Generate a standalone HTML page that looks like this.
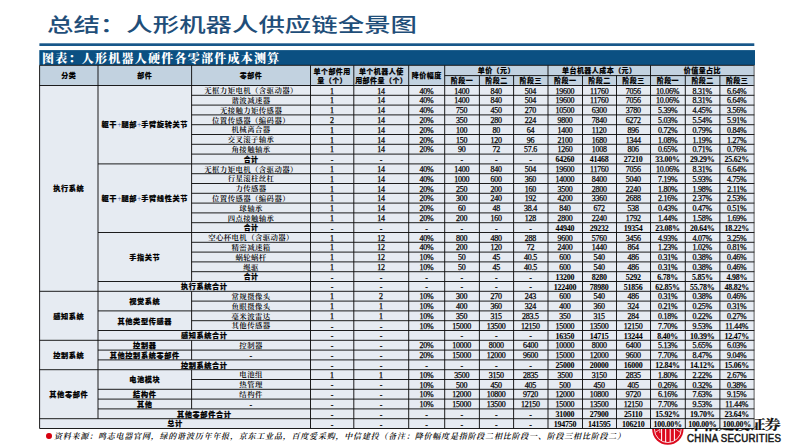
<!DOCTYPE html>
<html lang="zh-CN"><head><meta charset="utf-8"><title>总结：人形机器人供应链全景图</title>
<style>
html,body{margin:0;padding:0;background:#fff}
body{width:793px;height:446px;position:relative;overflow:hidden;font-family:"Liberation Serif","Noto Serif CJK SC",serif}
.title{position:absolute;left:46.6px;top:10.2px;height:30px;line-height:30px;font-size:19.4px;color:#1f4e79;white-space:nowrap;font-family:"Liberation Sans","Noto Sans CJK SC",sans-serif;font-weight:500;transform-origin:0 50%;transform:scaleX(1.363);letter-spacing:0}
.bartxt{position:absolute;left:42px;top:51.5px;height:15.2px;line-height:15.2px;color:#fff;font-size:12px;font-weight:900;white-space:nowrap;font-family:"Liberation Serif","Noto Serif CJK SC",serif;letter-spacing:1.25px}
svg.grid{position:absolute;left:0;top:0}
svg.grid line{stroke:#111;stroke-width:.95}
.t{position:absolute;text-align:center;white-space:nowrap;color:#000;overflow:visible}
.h{font-size:7px;font-weight:900;-webkit-text-stroke:.15px #000;letter-spacing:.45px;font-family:"Liberation Sans","Noto Sans CJK SC",sans-serif}
.h2{line-height:9.6px!important}
.b{font-size:7.2px;font-weight:900;-webkit-text-stroke:.2px #000;letter-spacing:.6px;font-family:"Liberation Sans","Noto Sans CJK SC",sans-serif}
.b2{font-size:6.9px;letter-spacing:.4px}
.c{font-size:7.4px;font-weight:600;font-family:"Liberation Serif","Noto Serif CJK SC",serif;letter-spacing:.4px}
.n{font-size:7.95px;font-family:"Liberation Serif",serif;letter-spacing:-.22px;-webkit-text-stroke:.25px #000;margin-left:-.3px;margin-top:.55px}
.nb{font-weight:700;-webkit-text-stroke:.08px #000}
.d{font-weight:700;margin-top:1.4px;-webkit-text-stroke:.1px #000}
.pl{color:#2f57a0;font-weight:400;font-family:"Liberation Serif",serif;-webkit-text-stroke:0;font-size:7.6px;letter-spacing:0}
.foot{position:absolute;left:53.9px;top:430.7px;height:12px;line-height:12px;font-size:8px;font-style:italic;white-space:nowrap;font-family:"Liberation Serif","Noto Serif CJK SC",serif;font-weight:600;letter-spacing:.8px;color:#000}
.dot{position:absolute;left:46.3px;top:433px;width:5.8px;height:5.8px;border-radius:50%;background:#d7000f}
.logo{position:absolute;left:0;top:0}
.cn{position:absolute;left:687.5px;top:414.9px;height:20px;line-height:20px;font-size:12.6px;font-weight:700;-webkit-text-stroke:.2px #111;white-space:nowrap;font-family:"Liberation Serif","Noto Serif CJK SC",serif;transform-origin:0 50%;transform:scaleX(1.285);letter-spacing:-.68px;color:#111}
.en{position:absolute;left:687.1px;top:433.3px;height:12px;line-height:12px;font-size:10px;font-weight:400;-webkit-text-stroke:.5px #1a1a1a;white-space:nowrap;font-family:"Liberation Sans",sans-serif;color:#1a1a1a;letter-spacing:.25px;transform-origin:0 50%;transform:scaleX(.968)}
</style></head><body>
<div class="title">总结：人形机器人供应链全景图</div>
<svg class="logo" width="793" height="446" viewBox="0 0 793 446">
<circle cx="667.85" cy="429.15" r="15.65" fill="#dc0a1e"/>
<circle cx="667.85" cy="429.15" r="13.4" fill="none" stroke="#fff" stroke-width=".85"/>
<g stroke="#fff" stroke-width="1.05" fill="none">
<path d="M661.6 416V440.9M665.65 416V442.3M670.2 416V442.3M674.4 416V440.7"/>
<path d="M655.6 432.2L659.9 429.4V433M680.1 432.2L675.9 429.4" stroke-width=".7"/>
</g>
</svg>
<div class="cn">中信建投证券</div>
<div class="en">CHINA SECURITIES</div>
<svg class="grid" width="793" height="446" viewBox="0 0 793 446">
<rect x="39.4" y="43.3" width="714.9" height="2.7" fill="#17578a"/>
<rect x="39.3" y="50.1" width="715.7" height="15.3" fill="#0b5082"/>
<rect x="39.6" y="65.3" width="714.7" height="20.2" fill="#c2d2e0"/>
<rect x="39.6" y="85.5" width="714.7" height="342.8" fill="#e6ebf2"/>
<g class="gl">
<line x1="39.60" y1="65.30" x2="754.30" y2="65.30"/>
<line x1="39.60" y1="85.50" x2="754.30" y2="85.50"/>
<line x1="39.60" y1="428.50" x2="754.30" y2="428.50"/>
<line x1="39.60" y1="65.30" x2="39.60" y2="428.50"/>
<line x1="754.10" y1="65.30" x2="754.10" y2="428.50" style="stroke:#555"/>
<line x1="444.70" y1="75.60" x2="754.30" y2="75.60"/>
<line x1="98.00" y1="65.30" x2="98.00" y2="85.50"/>
<line x1="191.60" y1="65.30" x2="191.60" y2="85.50"/>
<line x1="310.50" y1="65.30" x2="310.50" y2="85.50"/>
<line x1="353.80" y1="65.30" x2="353.80" y2="85.50"/>
<line x1="408.70" y1="65.30" x2="408.70" y2="85.50"/>
<line x1="444.70" y1="65.30" x2="444.70" y2="85.50"/>
<line x1="548.00" y1="65.30" x2="548.00" y2="85.50"/>
<line x1="650.50" y1="65.30" x2="650.50" y2="85.50"/>
<line x1="479.40" y1="75.60" x2="479.40" y2="85.50"/>
<line x1="513.60" y1="75.60" x2="513.60" y2="85.50"/>
<line x1="582.50" y1="75.60" x2="582.50" y2="85.50"/>
<line x1="616.50" y1="75.60" x2="616.50" y2="85.50"/>
<line x1="685.30" y1="75.60" x2="685.30" y2="85.50"/>
<line x1="719.90" y1="75.60" x2="719.90" y2="85.50"/>
<line x1="310.50" y1="85.50" x2="310.50" y2="428.50"/>
<line x1="353.80" y1="85.50" x2="353.80" y2="428.50"/>
<line x1="408.70" y1="85.50" x2="408.70" y2="428.50"/>
<line x1="444.70" y1="85.50" x2="444.70" y2="428.50"/>
<line x1="479.40" y1="85.50" x2="479.40" y2="428.50"/>
<line x1="513.60" y1="85.50" x2="513.60" y2="428.50"/>
<line x1="548.00" y1="85.50" x2="548.00" y2="428.50"/>
<line x1="582.50" y1="85.50" x2="582.50" y2="428.50"/>
<line x1="616.50" y1="85.50" x2="616.50" y2="428.50"/>
<line x1="650.50" y1="85.50" x2="650.50" y2="428.50"/>
<line x1="685.30" y1="85.50" x2="685.30" y2="428.50"/>
<line x1="719.90" y1="85.50" x2="719.90" y2="428.50"/>
<line x1="98.00" y1="85.50" x2="98.00" y2="418.70"/>
<line x1="191.60" y1="85.50" x2="191.60" y2="281.50"/>
<line x1="191.60" y1="291.30" x2="191.60" y2="330.50"/>
<line x1="191.60" y1="340.30" x2="191.60" y2="359.90"/>
<line x1="191.60" y1="369.70" x2="191.60" y2="408.90"/>
<line x1="191.60" y1="95.30" x2="754.30" y2="95.30"/>
<line x1="191.60" y1="105.10" x2="754.30" y2="105.10"/>
<line x1="191.60" y1="114.90" x2="754.30" y2="114.90"/>
<line x1="191.60" y1="124.70" x2="754.30" y2="124.70"/>
<line x1="191.60" y1="134.50" x2="754.30" y2="134.50"/>
<line x1="191.60" y1="144.30" x2="754.30" y2="144.30"/>
<line x1="191.60" y1="154.10" x2="754.30" y2="154.10"/>
<line x1="98.00" y1="163.90" x2="754.30" y2="163.90"/>
<line x1="191.60" y1="173.70" x2="754.30" y2="173.70"/>
<line x1="191.60" y1="183.50" x2="754.30" y2="183.50"/>
<line x1="191.60" y1="193.30" x2="754.30" y2="193.30"/>
<line x1="191.60" y1="203.10" x2="754.30" y2="203.10"/>
<line x1="191.60" y1="212.90" x2="754.30" y2="212.90"/>
<line x1="191.60" y1="222.70" x2="754.30" y2="222.70"/>
<line x1="98.00" y1="232.50" x2="754.30" y2="232.50"/>
<line x1="191.60" y1="242.30" x2="754.30" y2="242.30"/>
<line x1="191.60" y1="252.10" x2="754.30" y2="252.10"/>
<line x1="191.60" y1="261.90" x2="754.30" y2="261.90"/>
<line x1="191.60" y1="271.70" x2="754.30" y2="271.70"/>
<line x1="98.00" y1="281.50" x2="754.30" y2="281.50"/>
<line x1="39.60" y1="291.30" x2="754.30" y2="291.30"/>
<line x1="191.60" y1="301.10" x2="754.30" y2="301.10"/>
<line x1="98.00" y1="310.90" x2="754.30" y2="310.90"/>
<line x1="191.60" y1="320.70" x2="754.30" y2="320.70"/>
<line x1="98.00" y1="330.50" x2="754.30" y2="330.50"/>
<line x1="39.60" y1="340.30" x2="754.30" y2="340.30"/>
<line x1="98.00" y1="350.10" x2="754.30" y2="350.10"/>
<line x1="98.00" y1="359.90" x2="754.30" y2="359.90"/>
<line x1="39.60" y1="369.70" x2="754.30" y2="369.70"/>
<line x1="191.60" y1="379.50" x2="754.30" y2="379.50"/>
<line x1="98.00" y1="389.30" x2="754.30" y2="389.30"/>
<line x1="98.00" y1="399.10" x2="754.30" y2="399.10"/>
<line x1="98.00" y1="408.90" x2="754.30" y2="408.90"/>
<line x1="39.60" y1="418.70" x2="754.30" y2="418.70"/>
</g>
</svg>
<div class="bartxt">图表：人形机器人硬件各零部件成本测算</div>
<div class="t h" style="left:39.60px;width:58.40px;top:66.30px;height:20.20px;line-height:20.20px">分类</div>
<div class="t h" style="left:98.00px;width:93.60px;top:66.30px;height:20.20px;line-height:20.20px">部件</div>
<div class="t h" style="left:191.60px;width:118.90px;top:66.30px;height:20.20px;line-height:20.20px">零部件</div>
<div class="t h h2" style="left:310.50px;width:43.30px;top:66.80px;height:20.20px">单个部件用<br>量（个）</div>
<div class="t h h2" style="left:353.80px;width:54.90px;top:66.80px;height:20.20px">单个机器人使<br>用部件量（个）</div>
<div class="t h" style="left:408.70px;width:36.00px;top:66.30px;height:20.20px;line-height:20.20px">降价幅度</div>
<div class="t h" style="left:444.70px;width:103.30px;top:66.30px;height:10.30px;line-height:10.30px">单价（元）</div>
<div class="t h" style="left:548.00px;width:102.50px;top:66.30px;height:10.30px;line-height:10.30px">单台机器人成本（元）</div>
<div class="t h" style="left:650.50px;width:103.80px;top:66.30px;height:10.30px;line-height:10.30px">价值量占比</div>
<div class="t h" style="left:444.70px;width:34.70px;top:76.00px;height:9.90px;line-height:9.90px">阶段一</div>
<div class="t h" style="left:479.40px;width:34.20px;top:76.00px;height:9.90px;line-height:9.90px">阶段二</div>
<div class="t h" style="left:513.60px;width:34.40px;top:76.00px;height:9.90px;line-height:9.90px">阶段三</div>
<div class="t h" style="left:548.00px;width:34.50px;top:76.00px;height:9.90px;line-height:9.90px">阶段一</div>
<div class="t h" style="left:582.50px;width:34.00px;top:76.00px;height:9.90px;line-height:9.90px">阶段二</div>
<div class="t h" style="left:616.50px;width:34.00px;top:76.00px;height:9.90px;line-height:9.90px">阶段三</div>
<div class="t h" style="left:650.50px;width:34.80px;top:76.00px;height:9.90px;line-height:9.90px">阶段一</div>
<div class="t h" style="left:685.30px;width:34.60px;top:76.00px;height:9.90px;line-height:9.90px">阶段二</div>
<div class="t h" style="left:719.90px;width:34.40px;top:76.00px;height:9.90px;line-height:9.90px">阶段三</div>
<div class="t b" style="left:39.60px;width:58.40px;top:86.10px;height:205.80px;line-height:205.80px">执行系统</div>
<div class="t b" style="left:39.60px;width:58.40px;top:291.90px;height:49.00px;line-height:49.00px">感知系统</div>
<div class="t b" style="left:39.60px;width:58.40px;top:340.90px;height:29.40px;line-height:29.40px">控制系统</div>
<div class="t b" style="left:39.60px;width:58.40px;top:370.30px;height:49.00px;line-height:49.00px">其他零部件</div>
<div class="t b" style="left:98.00px;width:93.60px;top:86.10px;height:78.40px;line-height:78.40px">躯干<span class="pl">+</span>腿部<span class="pl">+</span>手臂旋转关节</div>
<div class="t b" style="left:98.00px;width:93.60px;top:164.50px;height:68.60px;line-height:68.60px">躯干<span class="pl">+</span>腿部<span class="pl">+</span>手臂线性关节</div>
<div class="t b" style="left:98.00px;width:93.60px;top:233.10px;height:49.00px;line-height:49.00px">手指关节</div>
<div class="t b" style="left:98.00px;width:93.60px;top:291.90px;height:19.60px;line-height:19.60px">视觉系统</div>
<div class="t b" style="left:98.00px;width:93.60px;top:311.50px;height:19.60px;line-height:19.60px">其他类型传感器</div>
<div class="t b" style="left:98.00px;width:93.60px;top:340.90px;height:9.80px;line-height:9.80px">控制器</div>
<div class="t b" style="left:98.00px;width:93.60px;top:350.70px;height:9.80px;line-height:9.80px">其他控制系统零部件</div>
<div class="t b" style="left:98.00px;width:93.60px;top:370.30px;height:19.60px;line-height:19.60px">电池模块</div>
<div class="t b" style="left:98.00px;width:93.60px;top:389.90px;height:9.80px;line-height:9.80px">结构件</div>
<div class="t b" style="left:98.00px;width:93.60px;top:399.70px;height:9.80px;line-height:9.80px">其他</div>
<div class="t c" style="left:191.60px;width:118.90px;top:86.10px;height:9.80px;line-height:9.80px">无框力矩电机（含驱动器）</div>
<div class="t n" style="left:310.50px;width:43.30px;top:86.10px;height:9.80px;line-height:9.80px">1</div>
<div class="t n" style="left:353.80px;width:54.90px;top:86.10px;height:9.80px;line-height:9.80px">14</div>
<div class="t n" style="left:408.70px;width:36.00px;top:86.10px;height:9.80px;line-height:9.80px">40%</div>
<div class="t n" style="left:444.70px;width:34.70px;top:86.10px;height:9.80px;line-height:9.80px">1400</div>
<div class="t n" style="left:479.40px;width:34.20px;top:86.10px;height:9.80px;line-height:9.80px">840</div>
<div class="t n" style="left:513.60px;width:34.40px;top:86.10px;height:9.80px;line-height:9.80px">504</div>
<div class="t n" style="left:548.00px;width:34.50px;top:86.10px;height:9.80px;line-height:9.80px">19600</div>
<div class="t n" style="left:582.50px;width:34.00px;top:86.10px;height:9.80px;line-height:9.80px">11760</div>
<div class="t n" style="left:616.50px;width:34.00px;top:86.10px;height:9.80px;line-height:9.80px">7056</div>
<div class="t n" style="left:650.50px;width:34.80px;top:86.10px;height:9.80px;line-height:9.80px">10.06%</div>
<div class="t n" style="left:685.30px;width:34.60px;top:86.10px;height:9.80px;line-height:9.80px">8.31%</div>
<div class="t n" style="left:719.90px;width:34.40px;top:86.10px;height:9.80px;line-height:9.80px">6.64%</div>
<div class="t c" style="left:191.60px;width:118.90px;top:95.90px;height:9.80px;line-height:9.80px">谐波减速器</div>
<div class="t n" style="left:310.50px;width:43.30px;top:95.90px;height:9.80px;line-height:9.80px">1</div>
<div class="t n" style="left:353.80px;width:54.90px;top:95.90px;height:9.80px;line-height:9.80px">14</div>
<div class="t n" style="left:408.70px;width:36.00px;top:95.90px;height:9.80px;line-height:9.80px">40%</div>
<div class="t n" style="left:444.70px;width:34.70px;top:95.90px;height:9.80px;line-height:9.80px">1400</div>
<div class="t n" style="left:479.40px;width:34.20px;top:95.90px;height:9.80px;line-height:9.80px">840</div>
<div class="t n" style="left:513.60px;width:34.40px;top:95.90px;height:9.80px;line-height:9.80px">504</div>
<div class="t n" style="left:548.00px;width:34.50px;top:95.90px;height:9.80px;line-height:9.80px">19600</div>
<div class="t n" style="left:582.50px;width:34.00px;top:95.90px;height:9.80px;line-height:9.80px">11760</div>
<div class="t n" style="left:616.50px;width:34.00px;top:95.90px;height:9.80px;line-height:9.80px">7056</div>
<div class="t n" style="left:650.50px;width:34.80px;top:95.90px;height:9.80px;line-height:9.80px">10.06%</div>
<div class="t n" style="left:685.30px;width:34.60px;top:95.90px;height:9.80px;line-height:9.80px">8.31%</div>
<div class="t n" style="left:719.90px;width:34.40px;top:95.90px;height:9.80px;line-height:9.80px">6.64%</div>
<div class="t c" style="left:191.60px;width:118.90px;top:105.70px;height:9.80px;line-height:9.80px">无接触力矩传感器</div>
<div class="t n" style="left:310.50px;width:43.30px;top:105.70px;height:9.80px;line-height:9.80px">1</div>
<div class="t n" style="left:353.80px;width:54.90px;top:105.70px;height:9.80px;line-height:9.80px">14</div>
<div class="t n" style="left:408.70px;width:36.00px;top:105.70px;height:9.80px;line-height:9.80px">40%</div>
<div class="t n" style="left:444.70px;width:34.70px;top:105.70px;height:9.80px;line-height:9.80px">750</div>
<div class="t n" style="left:479.40px;width:34.20px;top:105.70px;height:9.80px;line-height:9.80px">450</div>
<div class="t n" style="left:513.60px;width:34.40px;top:105.70px;height:9.80px;line-height:9.80px">270</div>
<div class="t n" style="left:548.00px;width:34.50px;top:105.70px;height:9.80px;line-height:9.80px">10500</div>
<div class="t n" style="left:582.50px;width:34.00px;top:105.70px;height:9.80px;line-height:9.80px">6300</div>
<div class="t n" style="left:616.50px;width:34.00px;top:105.70px;height:9.80px;line-height:9.80px">3780</div>
<div class="t n" style="left:650.50px;width:34.80px;top:105.70px;height:9.80px;line-height:9.80px">5.39%</div>
<div class="t n" style="left:685.30px;width:34.60px;top:105.70px;height:9.80px;line-height:9.80px">4.45%</div>
<div class="t n" style="left:719.90px;width:34.40px;top:105.70px;height:9.80px;line-height:9.80px">3.56%</div>
<div class="t c" style="left:191.60px;width:118.90px;top:115.50px;height:9.80px;line-height:9.80px">位置传感器（编码器）</div>
<div class="t n" style="left:310.50px;width:43.30px;top:115.50px;height:9.80px;line-height:9.80px">2</div>
<div class="t n" style="left:353.80px;width:54.90px;top:115.50px;height:9.80px;line-height:9.80px">14</div>
<div class="t n" style="left:408.70px;width:36.00px;top:115.50px;height:9.80px;line-height:9.80px">20%</div>
<div class="t n" style="left:444.70px;width:34.70px;top:115.50px;height:9.80px;line-height:9.80px">350</div>
<div class="t n" style="left:479.40px;width:34.20px;top:115.50px;height:9.80px;line-height:9.80px">280</div>
<div class="t n" style="left:513.60px;width:34.40px;top:115.50px;height:9.80px;line-height:9.80px">224</div>
<div class="t n" style="left:548.00px;width:34.50px;top:115.50px;height:9.80px;line-height:9.80px">9800</div>
<div class="t n" style="left:582.50px;width:34.00px;top:115.50px;height:9.80px;line-height:9.80px">7840</div>
<div class="t n" style="left:616.50px;width:34.00px;top:115.50px;height:9.80px;line-height:9.80px">6272</div>
<div class="t n" style="left:650.50px;width:34.80px;top:115.50px;height:9.80px;line-height:9.80px">5.03%</div>
<div class="t n" style="left:685.30px;width:34.60px;top:115.50px;height:9.80px;line-height:9.80px">5.54%</div>
<div class="t n" style="left:719.90px;width:34.40px;top:115.50px;height:9.80px;line-height:9.80px">5.91%</div>
<div class="t c" style="left:191.60px;width:118.90px;top:125.30px;height:9.80px;line-height:9.80px">机械离合器</div>
<div class="t n" style="left:310.50px;width:43.30px;top:125.30px;height:9.80px;line-height:9.80px">1</div>
<div class="t n" style="left:353.80px;width:54.90px;top:125.30px;height:9.80px;line-height:9.80px">14</div>
<div class="t n" style="left:408.70px;width:36.00px;top:125.30px;height:9.80px;line-height:9.80px">20%</div>
<div class="t n" style="left:444.70px;width:34.70px;top:125.30px;height:9.80px;line-height:9.80px">100</div>
<div class="t n" style="left:479.40px;width:34.20px;top:125.30px;height:9.80px;line-height:9.80px">80</div>
<div class="t n" style="left:513.60px;width:34.40px;top:125.30px;height:9.80px;line-height:9.80px">64</div>
<div class="t n" style="left:548.00px;width:34.50px;top:125.30px;height:9.80px;line-height:9.80px">1400</div>
<div class="t n" style="left:582.50px;width:34.00px;top:125.30px;height:9.80px;line-height:9.80px">1120</div>
<div class="t n" style="left:616.50px;width:34.00px;top:125.30px;height:9.80px;line-height:9.80px">896</div>
<div class="t n" style="left:650.50px;width:34.80px;top:125.30px;height:9.80px;line-height:9.80px">0.72%</div>
<div class="t n" style="left:685.30px;width:34.60px;top:125.30px;height:9.80px;line-height:9.80px">0.79%</div>
<div class="t n" style="left:719.90px;width:34.40px;top:125.30px;height:9.80px;line-height:9.80px">0.84%</div>
<div class="t c" style="left:191.60px;width:118.90px;top:135.10px;height:9.80px;line-height:9.80px">交叉滚子轴承</div>
<div class="t n" style="left:310.50px;width:43.30px;top:135.10px;height:9.80px;line-height:9.80px">1</div>
<div class="t n" style="left:353.80px;width:54.90px;top:135.10px;height:9.80px;line-height:9.80px">14</div>
<div class="t n" style="left:408.70px;width:36.00px;top:135.10px;height:9.80px;line-height:9.80px">20%</div>
<div class="t n" style="left:444.70px;width:34.70px;top:135.10px;height:9.80px;line-height:9.80px">150</div>
<div class="t n" style="left:479.40px;width:34.20px;top:135.10px;height:9.80px;line-height:9.80px">120</div>
<div class="t n" style="left:513.60px;width:34.40px;top:135.10px;height:9.80px;line-height:9.80px">96</div>
<div class="t n" style="left:548.00px;width:34.50px;top:135.10px;height:9.80px;line-height:9.80px">2100</div>
<div class="t n" style="left:582.50px;width:34.00px;top:135.10px;height:9.80px;line-height:9.80px">1680</div>
<div class="t n" style="left:616.50px;width:34.00px;top:135.10px;height:9.80px;line-height:9.80px">1344</div>
<div class="t n" style="left:650.50px;width:34.80px;top:135.10px;height:9.80px;line-height:9.80px">1.08%</div>
<div class="t n" style="left:685.30px;width:34.60px;top:135.10px;height:9.80px;line-height:9.80px">1.19%</div>
<div class="t n" style="left:719.90px;width:34.40px;top:135.10px;height:9.80px;line-height:9.80px">1.27%</div>
<div class="t c" style="left:191.60px;width:118.90px;top:144.90px;height:9.80px;line-height:9.80px">角接触轴承</div>
<div class="t n" style="left:310.50px;width:43.30px;top:144.90px;height:9.80px;line-height:9.80px">1</div>
<div class="t n" style="left:353.80px;width:54.90px;top:144.90px;height:9.80px;line-height:9.80px">14</div>
<div class="t n" style="left:408.70px;width:36.00px;top:144.90px;height:9.80px;line-height:9.80px">20%</div>
<div class="t n" style="left:444.70px;width:34.70px;top:144.90px;height:9.80px;line-height:9.80px">90</div>
<div class="t n" style="left:479.40px;width:34.20px;top:144.90px;height:9.80px;line-height:9.80px">72</div>
<div class="t n" style="left:513.60px;width:34.40px;top:144.90px;height:9.80px;line-height:9.80px">57.6</div>
<div class="t n" style="left:548.00px;width:34.50px;top:144.90px;height:9.80px;line-height:9.80px">1260</div>
<div class="t n" style="left:582.50px;width:34.00px;top:144.90px;height:9.80px;line-height:9.80px">1008</div>
<div class="t n" style="left:616.50px;width:34.00px;top:144.90px;height:9.80px;line-height:9.80px">806</div>
<div class="t n" style="left:650.50px;width:34.80px;top:144.90px;height:9.80px;line-height:9.80px">0.65%</div>
<div class="t n" style="left:685.30px;width:34.60px;top:144.90px;height:9.80px;line-height:9.80px">0.71%</div>
<div class="t n" style="left:719.90px;width:34.40px;top:144.90px;height:9.80px;line-height:9.80px">0.76%</div>
<div class="t b b2" style="left:191.60px;width:118.90px;top:154.70px;height:9.80px;line-height:9.80px">合计</div>
<div class="t n d" style="left:310.50px;width:43.30px;top:154.70px;height:9.80px;line-height:9.80px">-</div>
<div class="t n d" style="left:353.80px;width:54.90px;top:154.70px;height:9.80px;line-height:9.80px">-</div>
<div class="t n d" style="left:444.70px;width:34.70px;top:154.70px;height:9.80px;line-height:9.80px">-</div>
<div class="t n d" style="left:479.40px;width:34.20px;top:154.70px;height:9.80px;line-height:9.80px">-</div>
<div class="t n d" style="left:513.60px;width:34.40px;top:154.70px;height:9.80px;line-height:9.80px">-</div>
<div class="t n nb" style="left:548.00px;width:34.50px;top:154.70px;height:9.80px;line-height:9.80px">64260</div>
<div class="t n nb" style="left:582.50px;width:34.00px;top:154.70px;height:9.80px;line-height:9.80px">41468</div>
<div class="t n nb" style="left:616.50px;width:34.00px;top:154.70px;height:9.80px;line-height:9.80px">27210</div>
<div class="t n nb" style="left:650.50px;width:34.80px;top:154.70px;height:9.80px;line-height:9.80px">33.00%</div>
<div class="t n nb" style="left:685.30px;width:34.60px;top:154.70px;height:9.80px;line-height:9.80px">29.29%</div>
<div class="t n nb" style="left:719.90px;width:34.40px;top:154.70px;height:9.80px;line-height:9.80px">25.62%</div>
<div class="t c" style="left:191.60px;width:118.90px;top:164.50px;height:9.80px;line-height:9.80px">无框力矩电机（含驱动器）</div>
<div class="t n" style="left:310.50px;width:43.30px;top:164.50px;height:9.80px;line-height:9.80px">1</div>
<div class="t n" style="left:353.80px;width:54.90px;top:164.50px;height:9.80px;line-height:9.80px">14</div>
<div class="t n" style="left:408.70px;width:36.00px;top:164.50px;height:9.80px;line-height:9.80px">40%</div>
<div class="t n" style="left:444.70px;width:34.70px;top:164.50px;height:9.80px;line-height:9.80px">1400</div>
<div class="t n" style="left:479.40px;width:34.20px;top:164.50px;height:9.80px;line-height:9.80px">840</div>
<div class="t n" style="left:513.60px;width:34.40px;top:164.50px;height:9.80px;line-height:9.80px">504</div>
<div class="t n" style="left:548.00px;width:34.50px;top:164.50px;height:9.80px;line-height:9.80px">19600</div>
<div class="t n" style="left:582.50px;width:34.00px;top:164.50px;height:9.80px;line-height:9.80px">11760</div>
<div class="t n" style="left:616.50px;width:34.00px;top:164.50px;height:9.80px;line-height:9.80px">7056</div>
<div class="t n" style="left:650.50px;width:34.80px;top:164.50px;height:9.80px;line-height:9.80px">10.06%</div>
<div class="t n" style="left:685.30px;width:34.60px;top:164.50px;height:9.80px;line-height:9.80px">8.31%</div>
<div class="t n" style="left:719.90px;width:34.40px;top:164.50px;height:9.80px;line-height:9.80px">6.64%</div>
<div class="t c" style="left:191.60px;width:118.90px;top:174.30px;height:9.80px;line-height:9.80px">行星滚柱丝杠</div>
<div class="t n" style="left:310.50px;width:43.30px;top:174.30px;height:9.80px;line-height:9.80px">1</div>
<div class="t n" style="left:353.80px;width:54.90px;top:174.30px;height:9.80px;line-height:9.80px">14</div>
<div class="t n" style="left:408.70px;width:36.00px;top:174.30px;height:9.80px;line-height:9.80px">40%</div>
<div class="t n" style="left:444.70px;width:34.70px;top:174.30px;height:9.80px;line-height:9.80px">1000</div>
<div class="t n" style="left:479.40px;width:34.20px;top:174.30px;height:9.80px;line-height:9.80px">600</div>
<div class="t n" style="left:513.60px;width:34.40px;top:174.30px;height:9.80px;line-height:9.80px">360</div>
<div class="t n" style="left:548.00px;width:34.50px;top:174.30px;height:9.80px;line-height:9.80px">14000</div>
<div class="t n" style="left:582.50px;width:34.00px;top:174.30px;height:9.80px;line-height:9.80px">8400</div>
<div class="t n" style="left:616.50px;width:34.00px;top:174.30px;height:9.80px;line-height:9.80px">5040</div>
<div class="t n" style="left:650.50px;width:34.80px;top:174.30px;height:9.80px;line-height:9.80px">7.19%</div>
<div class="t n" style="left:685.30px;width:34.60px;top:174.30px;height:9.80px;line-height:9.80px">5.93%</div>
<div class="t n" style="left:719.90px;width:34.40px;top:174.30px;height:9.80px;line-height:9.80px">4.75%</div>
<div class="t c" style="left:191.60px;width:118.90px;top:184.10px;height:9.80px;line-height:9.80px">力传感器</div>
<div class="t n" style="left:310.50px;width:43.30px;top:184.10px;height:9.80px;line-height:9.80px">1</div>
<div class="t n" style="left:353.80px;width:54.90px;top:184.10px;height:9.80px;line-height:9.80px">14</div>
<div class="t n" style="left:408.70px;width:36.00px;top:184.10px;height:9.80px;line-height:9.80px">20%</div>
<div class="t n" style="left:444.70px;width:34.70px;top:184.10px;height:9.80px;line-height:9.80px">250</div>
<div class="t n" style="left:479.40px;width:34.20px;top:184.10px;height:9.80px;line-height:9.80px">200</div>
<div class="t n" style="left:513.60px;width:34.40px;top:184.10px;height:9.80px;line-height:9.80px">160</div>
<div class="t n" style="left:548.00px;width:34.50px;top:184.10px;height:9.80px;line-height:9.80px">3500</div>
<div class="t n" style="left:582.50px;width:34.00px;top:184.10px;height:9.80px;line-height:9.80px">2800</div>
<div class="t n" style="left:616.50px;width:34.00px;top:184.10px;height:9.80px;line-height:9.80px">2240</div>
<div class="t n" style="left:650.50px;width:34.80px;top:184.10px;height:9.80px;line-height:9.80px">1.80%</div>
<div class="t n" style="left:685.30px;width:34.60px;top:184.10px;height:9.80px;line-height:9.80px">1.98%</div>
<div class="t n" style="left:719.90px;width:34.40px;top:184.10px;height:9.80px;line-height:9.80px">2.11%</div>
<div class="t c" style="left:191.60px;width:118.90px;top:193.90px;height:9.80px;line-height:9.80px">位置传感器（编码器）</div>
<div class="t n" style="left:310.50px;width:43.30px;top:193.90px;height:9.80px;line-height:9.80px">1</div>
<div class="t n" style="left:353.80px;width:54.90px;top:193.90px;height:9.80px;line-height:9.80px">14</div>
<div class="t n" style="left:408.70px;width:36.00px;top:193.90px;height:9.80px;line-height:9.80px">20%</div>
<div class="t n" style="left:444.70px;width:34.70px;top:193.90px;height:9.80px;line-height:9.80px">300</div>
<div class="t n" style="left:479.40px;width:34.20px;top:193.90px;height:9.80px;line-height:9.80px">240</div>
<div class="t n" style="left:513.60px;width:34.40px;top:193.90px;height:9.80px;line-height:9.80px">192</div>
<div class="t n" style="left:548.00px;width:34.50px;top:193.90px;height:9.80px;line-height:9.80px">4200</div>
<div class="t n" style="left:582.50px;width:34.00px;top:193.90px;height:9.80px;line-height:9.80px">3360</div>
<div class="t n" style="left:616.50px;width:34.00px;top:193.90px;height:9.80px;line-height:9.80px">2688</div>
<div class="t n" style="left:650.50px;width:34.80px;top:193.90px;height:9.80px;line-height:9.80px">2.16%</div>
<div class="t n" style="left:685.30px;width:34.60px;top:193.90px;height:9.80px;line-height:9.80px">2.37%</div>
<div class="t n" style="left:719.90px;width:34.40px;top:193.90px;height:9.80px;line-height:9.80px">2.53%</div>
<div class="t c" style="left:191.60px;width:118.90px;top:203.70px;height:9.80px;line-height:9.80px">球轴承</div>
<div class="t n" style="left:310.50px;width:43.30px;top:203.70px;height:9.80px;line-height:9.80px">1</div>
<div class="t n" style="left:353.80px;width:54.90px;top:203.70px;height:9.80px;line-height:9.80px">14</div>
<div class="t n" style="left:408.70px;width:36.00px;top:203.70px;height:9.80px;line-height:9.80px">20%</div>
<div class="t n" style="left:444.70px;width:34.70px;top:203.70px;height:9.80px;line-height:9.80px">60</div>
<div class="t n" style="left:479.40px;width:34.20px;top:203.70px;height:9.80px;line-height:9.80px">48</div>
<div class="t n" style="left:513.60px;width:34.40px;top:203.70px;height:9.80px;line-height:9.80px">38.4</div>
<div class="t n" style="left:548.00px;width:34.50px;top:203.70px;height:9.80px;line-height:9.80px">840</div>
<div class="t n" style="left:582.50px;width:34.00px;top:203.70px;height:9.80px;line-height:9.80px">672</div>
<div class="t n" style="left:616.50px;width:34.00px;top:203.70px;height:9.80px;line-height:9.80px">538</div>
<div class="t n" style="left:650.50px;width:34.80px;top:203.70px;height:9.80px;line-height:9.80px">0.43%</div>
<div class="t n" style="left:685.30px;width:34.60px;top:203.70px;height:9.80px;line-height:9.80px">0.47%</div>
<div class="t n" style="left:719.90px;width:34.40px;top:203.70px;height:9.80px;line-height:9.80px">0.51%</div>
<div class="t c" style="left:191.60px;width:118.90px;top:213.50px;height:9.80px;line-height:9.80px">四点接触轴承</div>
<div class="t n" style="left:310.50px;width:43.30px;top:213.50px;height:9.80px;line-height:9.80px">1</div>
<div class="t n" style="left:353.80px;width:54.90px;top:213.50px;height:9.80px;line-height:9.80px">14</div>
<div class="t n" style="left:408.70px;width:36.00px;top:213.50px;height:9.80px;line-height:9.80px">20%</div>
<div class="t n" style="left:444.70px;width:34.70px;top:213.50px;height:9.80px;line-height:9.80px">200</div>
<div class="t n" style="left:479.40px;width:34.20px;top:213.50px;height:9.80px;line-height:9.80px">160</div>
<div class="t n" style="left:513.60px;width:34.40px;top:213.50px;height:9.80px;line-height:9.80px">128</div>
<div class="t n" style="left:548.00px;width:34.50px;top:213.50px;height:9.80px;line-height:9.80px">2800</div>
<div class="t n" style="left:582.50px;width:34.00px;top:213.50px;height:9.80px;line-height:9.80px">2240</div>
<div class="t n" style="left:616.50px;width:34.00px;top:213.50px;height:9.80px;line-height:9.80px">1792</div>
<div class="t n" style="left:650.50px;width:34.80px;top:213.50px;height:9.80px;line-height:9.80px">1.44%</div>
<div class="t n" style="left:685.30px;width:34.60px;top:213.50px;height:9.80px;line-height:9.80px">1.58%</div>
<div class="t n" style="left:719.90px;width:34.40px;top:213.50px;height:9.80px;line-height:9.80px">1.69%</div>
<div class="t b b2" style="left:191.60px;width:118.90px;top:223.30px;height:9.80px;line-height:9.80px">合计</div>
<div class="t n d" style="left:310.50px;width:43.30px;top:223.30px;height:9.80px;line-height:9.80px">-</div>
<div class="t n d" style="left:353.80px;width:54.90px;top:223.30px;height:9.80px;line-height:9.80px">-</div>
<div class="t n d" style="left:408.70px;width:36.00px;top:223.30px;height:9.80px;line-height:9.80px">-</div>
<div class="t n d" style="left:444.70px;width:34.70px;top:223.30px;height:9.80px;line-height:9.80px">-</div>
<div class="t n d" style="left:479.40px;width:34.20px;top:223.30px;height:9.80px;line-height:9.80px">-</div>
<div class="t n d" style="left:513.60px;width:34.40px;top:223.30px;height:9.80px;line-height:9.80px">-</div>
<div class="t n nb" style="left:548.00px;width:34.50px;top:223.30px;height:9.80px;line-height:9.80px">44940</div>
<div class="t n nb" style="left:582.50px;width:34.00px;top:223.30px;height:9.80px;line-height:9.80px">29232</div>
<div class="t n nb" style="left:616.50px;width:34.00px;top:223.30px;height:9.80px;line-height:9.80px">19354</div>
<div class="t n nb" style="left:650.50px;width:34.80px;top:223.30px;height:9.80px;line-height:9.80px">23.08%</div>
<div class="t n nb" style="left:685.30px;width:34.60px;top:223.30px;height:9.80px;line-height:9.80px">20.64%</div>
<div class="t n nb" style="left:719.90px;width:34.40px;top:223.30px;height:9.80px;line-height:9.80px">18.22%</div>
<div class="t c" style="left:191.60px;width:118.90px;top:233.10px;height:9.80px;line-height:9.80px">空心杯电机（含驱动器）</div>
<div class="t n" style="left:310.50px;width:43.30px;top:233.10px;height:9.80px;line-height:9.80px">1</div>
<div class="t n" style="left:353.80px;width:54.90px;top:233.10px;height:9.80px;line-height:9.80px">12</div>
<div class="t n" style="left:408.70px;width:36.00px;top:233.10px;height:9.80px;line-height:9.80px">40%</div>
<div class="t n" style="left:444.70px;width:34.70px;top:233.10px;height:9.80px;line-height:9.80px">800</div>
<div class="t n" style="left:479.40px;width:34.20px;top:233.10px;height:9.80px;line-height:9.80px">480</div>
<div class="t n" style="left:513.60px;width:34.40px;top:233.10px;height:9.80px;line-height:9.80px">288</div>
<div class="t n" style="left:548.00px;width:34.50px;top:233.10px;height:9.80px;line-height:9.80px">9600</div>
<div class="t n" style="left:582.50px;width:34.00px;top:233.10px;height:9.80px;line-height:9.80px">5760</div>
<div class="t n" style="left:616.50px;width:34.00px;top:233.10px;height:9.80px;line-height:9.80px">3456</div>
<div class="t n" style="left:650.50px;width:34.80px;top:233.10px;height:9.80px;line-height:9.80px">4.93%</div>
<div class="t n" style="left:685.30px;width:34.60px;top:233.10px;height:9.80px;line-height:9.80px">4.07%</div>
<div class="t n" style="left:719.90px;width:34.40px;top:233.10px;height:9.80px;line-height:9.80px">3.25%</div>
<div class="t c" style="left:191.60px;width:118.90px;top:242.90px;height:9.80px;line-height:9.80px">精密减速箱</div>
<div class="t n" style="left:310.50px;width:43.30px;top:242.90px;height:9.80px;line-height:9.80px">1</div>
<div class="t n" style="left:353.80px;width:54.90px;top:242.90px;height:9.80px;line-height:9.80px">12</div>
<div class="t n" style="left:408.70px;width:36.00px;top:242.90px;height:9.80px;line-height:9.80px">40%</div>
<div class="t n" style="left:444.70px;width:34.70px;top:242.90px;height:9.80px;line-height:9.80px">200</div>
<div class="t n" style="left:479.40px;width:34.20px;top:242.90px;height:9.80px;line-height:9.80px">120</div>
<div class="t n" style="left:513.60px;width:34.40px;top:242.90px;height:9.80px;line-height:9.80px">72</div>
<div class="t n" style="left:548.00px;width:34.50px;top:242.90px;height:9.80px;line-height:9.80px">2400</div>
<div class="t n" style="left:582.50px;width:34.00px;top:242.90px;height:9.80px;line-height:9.80px">1440</div>
<div class="t n" style="left:616.50px;width:34.00px;top:242.90px;height:9.80px;line-height:9.80px">864</div>
<div class="t n" style="left:650.50px;width:34.80px;top:242.90px;height:9.80px;line-height:9.80px">1.23%</div>
<div class="t n" style="left:685.30px;width:34.60px;top:242.90px;height:9.80px;line-height:9.80px">1.02%</div>
<div class="t n" style="left:719.90px;width:34.40px;top:242.90px;height:9.80px;line-height:9.80px">0.81%</div>
<div class="t c" style="left:191.60px;width:118.90px;top:252.70px;height:9.80px;line-height:9.80px">蜗轮蜗杆</div>
<div class="t n" style="left:310.50px;width:43.30px;top:252.70px;height:9.80px;line-height:9.80px">1</div>
<div class="t n" style="left:353.80px;width:54.90px;top:252.70px;height:9.80px;line-height:9.80px">12</div>
<div class="t n" style="left:408.70px;width:36.00px;top:252.70px;height:9.80px;line-height:9.80px">10%</div>
<div class="t n" style="left:444.70px;width:34.70px;top:252.70px;height:9.80px;line-height:9.80px">50</div>
<div class="t n" style="left:479.40px;width:34.20px;top:252.70px;height:9.80px;line-height:9.80px">45</div>
<div class="t n" style="left:513.60px;width:34.40px;top:252.70px;height:9.80px;line-height:9.80px">40.5</div>
<div class="t n" style="left:548.00px;width:34.50px;top:252.70px;height:9.80px;line-height:9.80px">600</div>
<div class="t n" style="left:582.50px;width:34.00px;top:252.70px;height:9.80px;line-height:9.80px">540</div>
<div class="t n" style="left:616.50px;width:34.00px;top:252.70px;height:9.80px;line-height:9.80px">486</div>
<div class="t n" style="left:650.50px;width:34.80px;top:252.70px;height:9.80px;line-height:9.80px">0.31%</div>
<div class="t n" style="left:685.30px;width:34.60px;top:252.70px;height:9.80px;line-height:9.80px">0.38%</div>
<div class="t n" style="left:719.90px;width:34.40px;top:252.70px;height:9.80px;line-height:9.80px">0.46%</div>
<div class="t c" style="left:191.60px;width:118.90px;top:262.50px;height:9.80px;line-height:9.80px">绳驱</div>
<div class="t n" style="left:310.50px;width:43.30px;top:262.50px;height:9.80px;line-height:9.80px">1</div>
<div class="t n" style="left:353.80px;width:54.90px;top:262.50px;height:9.80px;line-height:9.80px">12</div>
<div class="t n" style="left:408.70px;width:36.00px;top:262.50px;height:9.80px;line-height:9.80px">10%</div>
<div class="t n" style="left:444.70px;width:34.70px;top:262.50px;height:9.80px;line-height:9.80px">50</div>
<div class="t n" style="left:479.40px;width:34.20px;top:262.50px;height:9.80px;line-height:9.80px">45</div>
<div class="t n" style="left:513.60px;width:34.40px;top:262.50px;height:9.80px;line-height:9.80px">40.5</div>
<div class="t n" style="left:548.00px;width:34.50px;top:262.50px;height:9.80px;line-height:9.80px">600</div>
<div class="t n" style="left:582.50px;width:34.00px;top:262.50px;height:9.80px;line-height:9.80px">540</div>
<div class="t n" style="left:616.50px;width:34.00px;top:262.50px;height:9.80px;line-height:9.80px">486</div>
<div class="t n" style="left:650.50px;width:34.80px;top:262.50px;height:9.80px;line-height:9.80px">0.31%</div>
<div class="t n" style="left:685.30px;width:34.60px;top:262.50px;height:9.80px;line-height:9.80px">0.38%</div>
<div class="t n" style="left:719.90px;width:34.40px;top:262.50px;height:9.80px;line-height:9.80px">0.46%</div>
<div class="t b b2" style="left:191.60px;width:118.90px;top:272.30px;height:9.80px;line-height:9.80px">合计</div>
<div class="t n d" style="left:310.50px;width:43.30px;top:272.30px;height:9.80px;line-height:9.80px">-</div>
<div class="t n d" style="left:353.80px;width:54.90px;top:272.30px;height:9.80px;line-height:9.80px">-</div>
<div class="t n d" style="left:408.70px;width:36.00px;top:272.30px;height:9.80px;line-height:9.80px">-</div>
<div class="t n d" style="left:444.70px;width:34.70px;top:272.30px;height:9.80px;line-height:9.80px">-</div>
<div class="t n d" style="left:479.40px;width:34.20px;top:272.30px;height:9.80px;line-height:9.80px">-</div>
<div class="t n d" style="left:513.60px;width:34.40px;top:272.30px;height:9.80px;line-height:9.80px">-</div>
<div class="t n nb" style="left:548.00px;width:34.50px;top:272.30px;height:9.80px;line-height:9.80px">13200</div>
<div class="t n nb" style="left:582.50px;width:34.00px;top:272.30px;height:9.80px;line-height:9.80px">8280</div>
<div class="t n nb" style="left:616.50px;width:34.00px;top:272.30px;height:9.80px;line-height:9.80px">5292</div>
<div class="t n nb" style="left:650.50px;width:34.80px;top:272.30px;height:9.80px;line-height:9.80px">6.78%</div>
<div class="t n nb" style="left:685.30px;width:34.60px;top:272.30px;height:9.80px;line-height:9.80px">5.85%</div>
<div class="t n nb" style="left:719.90px;width:34.40px;top:272.30px;height:9.80px;line-height:9.80px">4.98%</div>
<div class="t b" style="left:98.00px;width:212.50px;top:282.10px;height:9.80px;line-height:9.80px">执行系统合计</div>
<div class="t n d" style="left:310.50px;width:43.30px;top:282.10px;height:9.80px;line-height:9.80px">-</div>
<div class="t n d" style="left:353.80px;width:54.90px;top:282.10px;height:9.80px;line-height:9.80px">-</div>
<div class="t n d" style="left:408.70px;width:36.00px;top:282.10px;height:9.80px;line-height:9.80px">-</div>
<div class="t n d" style="left:444.70px;width:34.70px;top:282.10px;height:9.80px;line-height:9.80px">-</div>
<div class="t n d" style="left:479.40px;width:34.20px;top:282.10px;height:9.80px;line-height:9.80px">-</div>
<div class="t n d" style="left:513.60px;width:34.40px;top:282.10px;height:9.80px;line-height:9.80px">-</div>
<div class="t n nb" style="left:548.00px;width:34.50px;top:282.10px;height:9.80px;line-height:9.80px">122400</div>
<div class="t n nb" style="left:582.50px;width:34.00px;top:282.10px;height:9.80px;line-height:9.80px">78980</div>
<div class="t n nb" style="left:616.50px;width:34.00px;top:282.10px;height:9.80px;line-height:9.80px">51856</div>
<div class="t n nb" style="left:650.50px;width:34.80px;top:282.10px;height:9.80px;line-height:9.80px">62.85%</div>
<div class="t n nb" style="left:685.30px;width:34.60px;top:282.10px;height:9.80px;line-height:9.80px">55.78%</div>
<div class="t n nb" style="left:719.90px;width:34.40px;top:282.10px;height:9.80px;line-height:9.80px">48.82%</div>
<div class="t c" style="left:191.60px;width:118.90px;top:291.90px;height:9.80px;line-height:9.80px">常规摄像头</div>
<div class="t n" style="left:310.50px;width:43.30px;top:291.90px;height:9.80px;line-height:9.80px">1</div>
<div class="t n" style="left:353.80px;width:54.90px;top:291.90px;height:9.80px;line-height:9.80px">2</div>
<div class="t n" style="left:408.70px;width:36.00px;top:291.90px;height:9.80px;line-height:9.80px">10%</div>
<div class="t n" style="left:444.70px;width:34.70px;top:291.90px;height:9.80px;line-height:9.80px">300</div>
<div class="t n" style="left:479.40px;width:34.20px;top:291.90px;height:9.80px;line-height:9.80px">270</div>
<div class="t n" style="left:513.60px;width:34.40px;top:291.90px;height:9.80px;line-height:9.80px">243</div>
<div class="t n" style="left:548.00px;width:34.50px;top:291.90px;height:9.80px;line-height:9.80px">600</div>
<div class="t n" style="left:582.50px;width:34.00px;top:291.90px;height:9.80px;line-height:9.80px">540</div>
<div class="t n" style="left:616.50px;width:34.00px;top:291.90px;height:9.80px;line-height:9.80px">486</div>
<div class="t n" style="left:650.50px;width:34.80px;top:291.90px;height:9.80px;line-height:9.80px">0.31%</div>
<div class="t n" style="left:685.30px;width:34.60px;top:291.90px;height:9.80px;line-height:9.80px">0.38%</div>
<div class="t n" style="left:719.90px;width:34.40px;top:291.90px;height:9.80px;line-height:9.80px">0.46%</div>
<div class="t c" style="left:191.60px;width:118.90px;top:301.70px;height:9.80px;line-height:9.80px">鱼眼摄像头</div>
<div class="t n" style="left:310.50px;width:43.30px;top:301.70px;height:9.80px;line-height:9.80px">1</div>
<div class="t n" style="left:353.80px;width:54.90px;top:301.70px;height:9.80px;line-height:9.80px">1</div>
<div class="t n" style="left:408.70px;width:36.00px;top:301.70px;height:9.80px;line-height:9.80px">10%</div>
<div class="t n" style="left:444.70px;width:34.70px;top:301.70px;height:9.80px;line-height:9.80px">400</div>
<div class="t n" style="left:479.40px;width:34.20px;top:301.70px;height:9.80px;line-height:9.80px">360</div>
<div class="t n" style="left:513.60px;width:34.40px;top:301.70px;height:9.80px;line-height:9.80px">324</div>
<div class="t n" style="left:548.00px;width:34.50px;top:301.70px;height:9.80px;line-height:9.80px">400</div>
<div class="t n" style="left:582.50px;width:34.00px;top:301.70px;height:9.80px;line-height:9.80px">360</div>
<div class="t n" style="left:616.50px;width:34.00px;top:301.70px;height:9.80px;line-height:9.80px">324</div>
<div class="t n" style="left:650.50px;width:34.80px;top:301.70px;height:9.80px;line-height:9.80px">0.21%</div>
<div class="t n" style="left:685.30px;width:34.60px;top:301.70px;height:9.80px;line-height:9.80px">0.25%</div>
<div class="t n" style="left:719.90px;width:34.40px;top:301.70px;height:9.80px;line-height:9.80px">0.31%</div>
<div class="t c" style="left:191.60px;width:118.90px;top:311.50px;height:9.80px;line-height:9.80px">毫米波雷达</div>
<div class="t n" style="left:310.50px;width:43.30px;top:311.50px;height:9.80px;line-height:9.80px">1</div>
<div class="t n" style="left:353.80px;width:54.90px;top:311.50px;height:9.80px;line-height:9.80px">1</div>
<div class="t n" style="left:408.70px;width:36.00px;top:311.50px;height:9.80px;line-height:9.80px">10%</div>
<div class="t n" style="left:444.70px;width:34.70px;top:311.50px;height:9.80px;line-height:9.80px">350</div>
<div class="t n" style="left:479.40px;width:34.20px;top:311.50px;height:9.80px;line-height:9.80px">315</div>
<div class="t n" style="left:513.60px;width:34.40px;top:311.50px;height:9.80px;line-height:9.80px">283.5</div>
<div class="t n" style="left:548.00px;width:34.50px;top:311.50px;height:9.80px;line-height:9.80px">350</div>
<div class="t n" style="left:582.50px;width:34.00px;top:311.50px;height:9.80px;line-height:9.80px">315</div>
<div class="t n" style="left:616.50px;width:34.00px;top:311.50px;height:9.80px;line-height:9.80px">284</div>
<div class="t n" style="left:650.50px;width:34.80px;top:311.50px;height:9.80px;line-height:9.80px">0.18%</div>
<div class="t n" style="left:685.30px;width:34.60px;top:311.50px;height:9.80px;line-height:9.80px">0.22%</div>
<div class="t n" style="left:719.90px;width:34.40px;top:311.50px;height:9.80px;line-height:9.80px">0.27%</div>
<div class="t c" style="left:191.60px;width:118.90px;top:321.30px;height:9.80px;line-height:9.80px">其他传感器</div>
<div class="t n d" style="left:310.50px;width:43.30px;top:321.30px;height:9.80px;line-height:9.80px">-</div>
<div class="t n d" style="left:353.80px;width:54.90px;top:321.30px;height:9.80px;line-height:9.80px">-</div>
<div class="t n" style="left:408.70px;width:36.00px;top:321.30px;height:9.80px;line-height:9.80px">10%</div>
<div class="t n" style="left:444.70px;width:34.70px;top:321.30px;height:9.80px;line-height:9.80px">15000</div>
<div class="t n" style="left:479.40px;width:34.20px;top:321.30px;height:9.80px;line-height:9.80px">13500</div>
<div class="t n" style="left:513.60px;width:34.40px;top:321.30px;height:9.80px;line-height:9.80px">12150</div>
<div class="t n" style="left:548.00px;width:34.50px;top:321.30px;height:9.80px;line-height:9.80px">15000</div>
<div class="t n" style="left:582.50px;width:34.00px;top:321.30px;height:9.80px;line-height:9.80px">13500</div>
<div class="t n" style="left:616.50px;width:34.00px;top:321.30px;height:9.80px;line-height:9.80px">12150</div>
<div class="t n" style="left:650.50px;width:34.80px;top:321.30px;height:9.80px;line-height:9.80px">7.70%</div>
<div class="t n" style="left:685.30px;width:34.60px;top:321.30px;height:9.80px;line-height:9.80px">9.53%</div>
<div class="t n" style="left:719.90px;width:34.40px;top:321.30px;height:9.80px;line-height:9.80px">11.44%</div>
<div class="t b" style="left:98.00px;width:212.50px;top:331.10px;height:9.80px;line-height:9.80px">感知系统合计</div>
<div class="t n d" style="left:310.50px;width:43.30px;top:331.10px;height:9.80px;line-height:9.80px">-</div>
<div class="t n d" style="left:353.80px;width:54.90px;top:331.10px;height:9.80px;line-height:9.80px">-</div>
<div class="t n d" style="left:444.70px;width:34.70px;top:331.10px;height:9.80px;line-height:9.80px">-</div>
<div class="t n d" style="left:479.40px;width:34.20px;top:331.10px;height:9.80px;line-height:9.80px">-</div>
<div class="t n d" style="left:513.60px;width:34.40px;top:331.10px;height:9.80px;line-height:9.80px">-</div>
<div class="t n nb" style="left:548.00px;width:34.50px;top:331.10px;height:9.80px;line-height:9.80px">16350</div>
<div class="t n nb" style="left:582.50px;width:34.00px;top:331.10px;height:9.80px;line-height:9.80px">14715</div>
<div class="t n nb" style="left:616.50px;width:34.00px;top:331.10px;height:9.80px;line-height:9.80px">13244</div>
<div class="t n nb" style="left:650.50px;width:34.80px;top:331.10px;height:9.80px;line-height:9.80px">8.40%</div>
<div class="t n nb" style="left:685.30px;width:34.60px;top:331.10px;height:9.80px;line-height:9.80px">10.39%</div>
<div class="t n nb" style="left:719.90px;width:34.40px;top:331.10px;height:9.80px;line-height:9.80px">12.47%</div>
<div class="t c" style="left:191.60px;width:118.90px;top:340.90px;height:9.80px;line-height:9.80px">控制器</div>
<div class="t n d" style="left:310.50px;width:43.30px;top:340.90px;height:9.80px;line-height:9.80px">-</div>
<div class="t n d" style="left:353.80px;width:54.90px;top:340.90px;height:9.80px;line-height:9.80px">-</div>
<div class="t n" style="left:408.70px;width:36.00px;top:340.90px;height:9.80px;line-height:9.80px">20%</div>
<div class="t n" style="left:444.70px;width:34.70px;top:340.90px;height:9.80px;line-height:9.80px">10000</div>
<div class="t n" style="left:479.40px;width:34.20px;top:340.90px;height:9.80px;line-height:9.80px">8000</div>
<div class="t n" style="left:513.60px;width:34.40px;top:340.90px;height:9.80px;line-height:9.80px">6400</div>
<div class="t n" style="left:548.00px;width:34.50px;top:340.90px;height:9.80px;line-height:9.80px">10000</div>
<div class="t n" style="left:582.50px;width:34.00px;top:340.90px;height:9.80px;line-height:9.80px">8000</div>
<div class="t n" style="left:616.50px;width:34.00px;top:340.90px;height:9.80px;line-height:9.80px">6400</div>
<div class="t n" style="left:650.50px;width:34.80px;top:340.90px;height:9.80px;line-height:9.80px">5.13%</div>
<div class="t n" style="left:685.30px;width:34.60px;top:340.90px;height:9.80px;line-height:9.80px">5.65%</div>
<div class="t n" style="left:719.90px;width:34.40px;top:340.90px;height:9.80px;line-height:9.80px">6.03%</div>
<div class="t n d" style="left:191.60px;width:118.90px;top:350.70px;height:9.80px;line-height:9.80px">-</div>
<div class="t n d" style="left:310.50px;width:43.30px;top:350.70px;height:9.80px;line-height:9.80px">-</div>
<div class="t n d" style="left:353.80px;width:54.90px;top:350.70px;height:9.80px;line-height:9.80px">-</div>
<div class="t n" style="left:408.70px;width:36.00px;top:350.70px;height:9.80px;line-height:9.80px">20%</div>
<div class="t n" style="left:444.70px;width:34.70px;top:350.70px;height:9.80px;line-height:9.80px">15000</div>
<div class="t n" style="left:479.40px;width:34.20px;top:350.70px;height:9.80px;line-height:9.80px">12000</div>
<div class="t n" style="left:513.60px;width:34.40px;top:350.70px;height:9.80px;line-height:9.80px">9600</div>
<div class="t n" style="left:548.00px;width:34.50px;top:350.70px;height:9.80px;line-height:9.80px">15000</div>
<div class="t n" style="left:582.50px;width:34.00px;top:350.70px;height:9.80px;line-height:9.80px">12000</div>
<div class="t n" style="left:616.50px;width:34.00px;top:350.70px;height:9.80px;line-height:9.80px">9600</div>
<div class="t n" style="left:650.50px;width:34.80px;top:350.70px;height:9.80px;line-height:9.80px">7.70%</div>
<div class="t n" style="left:685.30px;width:34.60px;top:350.70px;height:9.80px;line-height:9.80px">8.47%</div>
<div class="t n" style="left:719.90px;width:34.40px;top:350.70px;height:9.80px;line-height:9.80px">9.04%</div>
<div class="t b" style="left:98.00px;width:212.50px;top:360.50px;height:9.80px;line-height:9.80px">控制系统合计</div>
<div class="t n d" style="left:310.50px;width:43.30px;top:360.50px;height:9.80px;line-height:9.80px">-</div>
<div class="t n d" style="left:353.80px;width:54.90px;top:360.50px;height:9.80px;line-height:9.80px">-</div>
<div class="t n d" style="left:408.70px;width:36.00px;top:360.50px;height:9.80px;line-height:9.80px">-</div>
<div class="t n d" style="left:444.70px;width:34.70px;top:360.50px;height:9.80px;line-height:9.80px">-</div>
<div class="t n d" style="left:479.40px;width:34.20px;top:360.50px;height:9.80px;line-height:9.80px">-</div>
<div class="t n d" style="left:513.60px;width:34.40px;top:360.50px;height:9.80px;line-height:9.80px">-</div>
<div class="t n nb" style="left:548.00px;width:34.50px;top:360.50px;height:9.80px;line-height:9.80px">25000</div>
<div class="t n nb" style="left:582.50px;width:34.00px;top:360.50px;height:9.80px;line-height:9.80px">20000</div>
<div class="t n nb" style="left:616.50px;width:34.00px;top:360.50px;height:9.80px;line-height:9.80px">16000</div>
<div class="t n nb" style="left:650.50px;width:34.80px;top:360.50px;height:9.80px;line-height:9.80px">12.84%</div>
<div class="t n nb" style="left:685.30px;width:34.60px;top:360.50px;height:9.80px;line-height:9.80px">14.12%</div>
<div class="t n nb" style="left:719.90px;width:34.40px;top:360.50px;height:9.80px;line-height:9.80px">15.06%</div>
<div class="t c" style="left:191.60px;width:118.90px;top:370.30px;height:9.80px;line-height:9.80px">电池组</div>
<div class="t n" style="left:310.50px;width:43.30px;top:370.30px;height:9.80px;line-height:9.80px">1</div>
<div class="t n" style="left:353.80px;width:54.90px;top:370.30px;height:9.80px;line-height:9.80px">1</div>
<div class="t n" style="left:408.70px;width:36.00px;top:370.30px;height:9.80px;line-height:9.80px">10%</div>
<div class="t n" style="left:444.70px;width:34.70px;top:370.30px;height:9.80px;line-height:9.80px">3500</div>
<div class="t n" style="left:479.40px;width:34.20px;top:370.30px;height:9.80px;line-height:9.80px">3150</div>
<div class="t n" style="left:513.60px;width:34.40px;top:370.30px;height:9.80px;line-height:9.80px">2835</div>
<div class="t n" style="left:548.00px;width:34.50px;top:370.30px;height:9.80px;line-height:9.80px">3500</div>
<div class="t n" style="left:582.50px;width:34.00px;top:370.30px;height:9.80px;line-height:9.80px">3150</div>
<div class="t n" style="left:616.50px;width:34.00px;top:370.30px;height:9.80px;line-height:9.80px">2835</div>
<div class="t n" style="left:650.50px;width:34.80px;top:370.30px;height:9.80px;line-height:9.80px">1.80%</div>
<div class="t n" style="left:685.30px;width:34.60px;top:370.30px;height:9.80px;line-height:9.80px">2.22%</div>
<div class="t n" style="left:719.90px;width:34.40px;top:370.30px;height:9.80px;line-height:9.80px">2.67%</div>
<div class="t c" style="left:191.60px;width:118.90px;top:380.10px;height:9.80px;line-height:9.80px">热管理</div>
<div class="t n d" style="left:310.50px;width:43.30px;top:380.10px;height:9.80px;line-height:9.80px">-</div>
<div class="t n d" style="left:353.80px;width:54.90px;top:380.10px;height:9.80px;line-height:9.80px">-</div>
<div class="t n" style="left:408.70px;width:36.00px;top:380.10px;height:9.80px;line-height:9.80px">10%</div>
<div class="t n" style="left:444.70px;width:34.70px;top:380.10px;height:9.80px;line-height:9.80px">500</div>
<div class="t n" style="left:479.40px;width:34.20px;top:380.10px;height:9.80px;line-height:9.80px">450</div>
<div class="t n" style="left:513.60px;width:34.40px;top:380.10px;height:9.80px;line-height:9.80px">405</div>
<div class="t n" style="left:548.00px;width:34.50px;top:380.10px;height:9.80px;line-height:9.80px">500</div>
<div class="t n" style="left:582.50px;width:34.00px;top:380.10px;height:9.80px;line-height:9.80px">450</div>
<div class="t n" style="left:616.50px;width:34.00px;top:380.10px;height:9.80px;line-height:9.80px">405</div>
<div class="t n" style="left:650.50px;width:34.80px;top:380.10px;height:9.80px;line-height:9.80px">0.26%</div>
<div class="t n" style="left:685.30px;width:34.60px;top:380.10px;height:9.80px;line-height:9.80px">0.32%</div>
<div class="t n" style="left:719.90px;width:34.40px;top:380.10px;height:9.80px;line-height:9.80px">0.38%</div>
<div class="t c" style="left:191.60px;width:118.90px;top:389.90px;height:9.80px;line-height:9.80px">结构件</div>
<div class="t n d" style="left:310.50px;width:43.30px;top:389.90px;height:9.80px;line-height:9.80px">-</div>
<div class="t n d" style="left:353.80px;width:54.90px;top:389.90px;height:9.80px;line-height:9.80px">-</div>
<div class="t n" style="left:408.70px;width:36.00px;top:389.90px;height:9.80px;line-height:9.80px">10%</div>
<div class="t n" style="left:444.70px;width:34.70px;top:389.90px;height:9.80px;line-height:9.80px">12000</div>
<div class="t n" style="left:479.40px;width:34.20px;top:389.90px;height:9.80px;line-height:9.80px">10800</div>
<div class="t n" style="left:513.60px;width:34.40px;top:389.90px;height:9.80px;line-height:9.80px">9720</div>
<div class="t n" style="left:548.00px;width:34.50px;top:389.90px;height:9.80px;line-height:9.80px">12000</div>
<div class="t n" style="left:582.50px;width:34.00px;top:389.90px;height:9.80px;line-height:9.80px">10800</div>
<div class="t n" style="left:616.50px;width:34.00px;top:389.90px;height:9.80px;line-height:9.80px">9720</div>
<div class="t n" style="left:650.50px;width:34.80px;top:389.90px;height:9.80px;line-height:9.80px">6.16%</div>
<div class="t n" style="left:685.30px;width:34.60px;top:389.90px;height:9.80px;line-height:9.80px">7.63%</div>
<div class="t n" style="left:719.90px;width:34.40px;top:389.90px;height:9.80px;line-height:9.80px">9.15%</div>
<div class="t n d" style="left:191.60px;width:118.90px;top:399.70px;height:9.80px;line-height:9.80px">-</div>
<div class="t n d" style="left:310.50px;width:43.30px;top:399.70px;height:9.80px;line-height:9.80px">-</div>
<div class="t n d" style="left:353.80px;width:54.90px;top:399.70px;height:9.80px;line-height:9.80px">-</div>
<div class="t n" style="left:408.70px;width:36.00px;top:399.70px;height:9.80px;line-height:9.80px">10%</div>
<div class="t n" style="left:444.70px;width:34.70px;top:399.70px;height:9.80px;line-height:9.80px">15000</div>
<div class="t n" style="left:479.40px;width:34.20px;top:399.70px;height:9.80px;line-height:9.80px">13500</div>
<div class="t n" style="left:513.60px;width:34.40px;top:399.70px;height:9.80px;line-height:9.80px">12150</div>
<div class="t n" style="left:548.00px;width:34.50px;top:399.70px;height:9.80px;line-height:9.80px">15000</div>
<div class="t n" style="left:582.50px;width:34.00px;top:399.70px;height:9.80px;line-height:9.80px">13500</div>
<div class="t n" style="left:616.50px;width:34.00px;top:399.70px;height:9.80px;line-height:9.80px">12150</div>
<div class="t n" style="left:650.50px;width:34.80px;top:399.70px;height:9.80px;line-height:9.80px">7.70%</div>
<div class="t n" style="left:685.30px;width:34.60px;top:399.70px;height:9.80px;line-height:9.80px">9.53%</div>
<div class="t n" style="left:719.90px;width:34.40px;top:399.70px;height:9.80px;line-height:9.80px">11.44%</div>
<div class="t b" style="left:98.00px;width:212.50px;top:409.50px;height:9.80px;line-height:9.80px">其他零部件合计</div>
<div class="t n d" style="left:310.50px;width:43.30px;top:409.50px;height:9.80px;line-height:9.80px">-</div>
<div class="t n d" style="left:353.80px;width:54.90px;top:409.50px;height:9.80px;line-height:9.80px">-</div>
<div class="t n d" style="left:408.70px;width:36.00px;top:409.50px;height:9.80px;line-height:9.80px">-</div>
<div class="t n d" style="left:444.70px;width:34.70px;top:409.50px;height:9.80px;line-height:9.80px">-</div>
<div class="t n d" style="left:479.40px;width:34.20px;top:409.50px;height:9.80px;line-height:9.80px">-</div>
<div class="t n d" style="left:513.60px;width:34.40px;top:409.50px;height:9.80px;line-height:9.80px">-</div>
<div class="t n nb" style="left:548.00px;width:34.50px;top:409.50px;height:9.80px;line-height:9.80px">31000</div>
<div class="t n nb" style="left:582.50px;width:34.00px;top:409.50px;height:9.80px;line-height:9.80px">27900</div>
<div class="t n nb" style="left:616.50px;width:34.00px;top:409.50px;height:9.80px;line-height:9.80px">25110</div>
<div class="t n nb" style="left:650.50px;width:34.80px;top:409.50px;height:9.80px;line-height:9.80px">15.92%</div>
<div class="t n nb" style="left:685.30px;width:34.60px;top:409.50px;height:9.80px;line-height:9.80px">19.70%</div>
<div class="t n nb" style="left:719.90px;width:34.40px;top:409.50px;height:9.80px;line-height:9.80px">23.64%</div>
<div class="t b" style="left:39.60px;width:270.90px;top:419.30px;height:9.80px;line-height:9.80px">总计</div>
<div class="t n d" style="left:310.50px;width:43.30px;top:419.30px;height:9.80px;line-height:9.80px">-</div>
<div class="t n d" style="left:353.80px;width:54.90px;top:419.30px;height:9.80px;line-height:9.80px">-</div>
<div class="t n d" style="left:408.70px;width:36.00px;top:419.30px;height:9.80px;line-height:9.80px">-</div>
<div class="t n d" style="left:444.70px;width:34.70px;top:419.30px;height:9.80px;line-height:9.80px">-</div>
<div class="t n d" style="left:479.40px;width:34.20px;top:419.30px;height:9.80px;line-height:9.80px">-</div>
<div class="t n d" style="left:513.60px;width:34.40px;top:419.30px;height:9.80px;line-height:9.80px">-</div>
<div class="t n nb" style="left:548.00px;width:34.50px;top:419.30px;height:9.80px;line-height:9.80px">194750</div>
<div class="t n nb" style="left:582.50px;width:34.00px;top:419.30px;height:9.80px;line-height:9.80px">141595</div>
<div class="t n nb" style="left:616.50px;width:34.00px;top:419.30px;height:9.80px;line-height:9.80px">106210</div>
<div class="t n nb" style="left:650.50px;width:34.80px;top:419.30px;height:9.80px;line-height:9.80px">100.00%</div>
<div class="t n nb" style="left:685.30px;width:34.60px;top:419.30px;height:9.80px;line-height:9.80px">100.00%</div>
<div class="t n nb" style="left:719.90px;width:34.40px;top:419.30px;height:9.80px;line-height:9.80px">100.00%</div>
<div class="dot"></div>
<div class="foot">资料来源：鸣志电器官网，绿的谐波历年年报，京东工业品，百度爱采购，中信建投（备注：降价幅度是指阶段二相比阶段一、阶段三相比阶段二）</div>
</body></html>
